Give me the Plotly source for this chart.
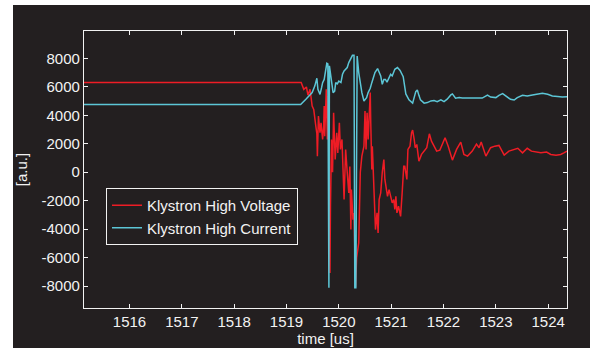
import plotly.graph_objects as go

# ---- data ----
voltage_time = [1515.13, 1519.28, 1519.33, 1519.38, 1519.41, 1519.45, 1519.49, 1519.52, 1519.56, 1519.58,
                1519.59, 1519.61, 1519.64, 1519.66, 1519.69, 1519.71, 1519.72, 1519.73, 1519.76, 1519.78,
                1519.80, 1519.83, 1519.84, 1519.86, 1519.88, 1519.90, 1519.93, 1519.96, 1519.98, 1520.01,
                1520.03, 1520.06, 1520.10, 1520.13, 1520.16, 1520.19, 1520.21, 1520.23, 1520.24, 1520.27,
                1520.29, 1520.32, 1520.34, 1520.38, 1520.41, 1520.44, 1520.48, 1520.50, 1520.52, 1520.54,
                1520.56, 1520.58, 1520.60, 1520.61, 1520.63, 1520.64, 1520.67, 1520.70, 1520.73, 1520.75,
                1520.77, 1520.80, 1520.83, 1520.86, 1520.88, 1520.91, 1520.93, 1520.96, 1520.99, 1521.02,
                1521.05, 1521.07, 1521.09, 1521.11, 1521.14, 1521.18, 1521.21, 1521.24, 1521.26, 1521.30,
                1521.32, 1521.36, 1521.39, 1521.41, 1521.44, 1521.46, 1521.49, 1521.53, 1521.58, 1521.63,
                1521.68, 1521.73, 1521.77, 1521.87, 1521.93, 1522.03, 1522.09, 1522.17, 1522.25, 1522.33,
                1522.39, 1522.46, 1522.55, 1522.63, 1522.68, 1522.72, 1522.81, 1522.90, 1522.98, 1523.06,
                1523.16, 1523.25, 1523.35, 1523.42, 1523.51, 1523.60, 1523.68, 1523.76, 1523.86, 1523.97,
                1524.05, 1524.15, 1524.24, 1524.30, 1524.36]
voltage_values = [6300, 6300, 5820, 5990, 5410, 5820, 4650, 4410, 3240, 2710,
                  1130, 3940, 2770, 3470, 2300, 3240, 4650, 2530, 5820, 2300,
                  5350, -7080, -2390, 2300, 0, 4180, 890, 2770, 1360, 3470,
                  1600, 2300, -1920, 1600, 0, -1450, 400, -4030, -1220, -3330,
                  -2860, -8040, -6000, -4970, 0, 1130, 1830, 4290, 1600, 4180,
                  2300, 4650, 5590, 3470, 190, 1830, -1220, -4030, -2860, -4270,
                  -1920, -1450, 0, 890, -510, -1450, -1690, -1220, -1690, -2160,
                  -1920, -2620, -1690, -2860, -2390, -3100, -1450, 420, 420, -510,
                  1600, 1830, 2770, 2960, 2300, 1720, 1950, 770, 1250, 1480,
                  1720, 2700, 2180, 1480, 1550, 2420, 1830, 850, 1600, 2110,
                  1250, 1130, 1480, 1970, 1720, 2120, 1130, 1720, 1830, 1880,
                  1200, 1480, 1600, 1680, 1360, 1680, 1480, 1410, 1360, 1410,
                  1250, 1200, 1250, 1360, 1480]

current_time = [1515.13, 1519.27, 1519.37, 1519.43, 1519.49, 1519.54, 1519.58, 1519.60, 1519.64, 1519.67,
                1519.69, 1519.72, 1519.74, 1519.77, 1519.79, 1519.797, 1519.81, 1519.82, 1519.84, 1519.87,
                1519.89, 1519.92, 1519.94, 1519.97, 1520.00, 1520.04, 1520.07, 1520.10, 1520.13, 1520.16,
                1520.19, 1520.23, 1520.26, 1520.29, 1520.305, 1520.325, 1520.35, 1520.38, 1520.41, 1520.44,
                1520.48, 1520.53, 1520.56, 1520.60, 1520.63, 1520.69, 1520.74, 1520.77, 1520.80, 1520.83,
                1520.86, 1520.89, 1520.92, 1520.96, 1520.99, 1521.02, 1521.07, 1521.12, 1521.17, 1521.23,
                1521.28, 1521.34, 1521.41, 1521.47, 1521.50, 1521.53, 1521.56, 1521.63, 1521.69, 1521.76,
                1521.82, 1521.88, 1521.95, 1522.01, 1522.07, 1522.14, 1522.17, 1522.23, 1522.30, 1522.36,
                1522.46, 1522.55, 1522.65, 1522.74, 1522.84, 1522.90, 1523.00, 1523.06, 1523.13, 1523.19,
                1523.28, 1523.35, 1523.41, 1523.51, 1523.60, 1523.70, 1523.80, 1523.89, 1523.99, 1524.08,
                1524.18, 1524.27, 1524.37]
current_values = [4750, 4750, 5120, 5350, 5590, 6050, 6600, 5820, 5470, 5940,
                  6290, 6520, 7000, 7650, 7600, -8110, -8110, 7470, 7000, 6050,
                  5590, 5700, 6290, 6200, 6400, 6300, 6880, 7110, 7200, 7350,
                  7700, 8000, 8210, 8210, -8110, -8110, 8160, 7000, 6200, 5590,
                  5000, 5230, 5590, 5900, 6290, 7000, 7280, 7000, 6760, 6170,
                  6520, 6520, 6330, 6640, 6880, 6760, 7230, 7350, 7150, 6710,
                  5500, 5080, 4850, 5660, 5780, 5400, 5080, 4850, 4890, 5010,
                  5030, 4960, 5080, 4960, 5130, 5430, 5500, 5200, 5240, 5210,
                  5210, 5170, 5190, 5210, 5420, 5280, 5240, 5400, 5520, 5350,
                  5120, 5070, 5240, 5400, 5350, 5420, 5490, 5540, 5470, 5350,
                  5310, 5280, 5310]

x_ticks = [1516, 1517, 1518, 1519, 1520, 1521, 1522, 1523, 1524]
y_ticks = [-8000, -6000, -4000, -2000, 0, 2000, 4000, 6000, 8000]
x_ticktext = [str(v) for v in x_ticks]
y_ticktext = [str(v) for v in y_ticks]  # plain hyphen-minus as in the original

BG = "#231f20"
FG = "#f2f2f2"
FONT = "Liberation Sans, Arial, sans-serif"

fig = go.Figure()
fig.add_trace(go.Scatter(x=voltage_time, y=voltage_values, mode="lines",
                         name="Klystron High Voltage",
                         line=dict(color="#ee1c25", width=1.5)))
fig.add_trace(go.Scatter(x=current_time, y=current_values, mode="lines",
                         name="Klystron High Current",
                         line=dict(color="#5cc6d6", width=1.5)))

L, R, T, B = 84, 23, 31, 40
W, H = 590, 348
pw, ph = W - L - R, H - T - B

# dark panel behind the whole figure (leaving a thin white strip top/left)
fig.add_shape(type="rect", xref="paper", yref="paper",
              x0=(13 - L) / pw, x1=(W + 30 - L) / pw,
              y0=-(B + 30) / ph, y1=(ph + T - 5) / ph,
              fillcolor=BG, line=dict(width=0), layer="below")

axis_common = dict(showline=True, linecolor=FG, linewidth=1.3, mirror="ticks",
                   ticks="inside", ticklen=4, tickcolor=FG, tickwidth=1,
                   showgrid=False, zeroline=False, automargin=False,
                   tickfont=dict(family=FONT, size=15, color=FG))

fig.update_layout(
    width=W, height=H,
    margin=dict(l=L, r=R, t=T, b=B),
    paper_bgcolor="white", plot_bgcolor=BG,
    showlegend=True,
    legend=dict(x=(106 - L) / pw, y=(H - B - 188) / ph, xanchor="left", yanchor="top",
                bgcolor=BG, bordercolor=FG, borderwidth=1,
                font=dict(family=FONT, size=15, color=FG),
                tracegroupgap=0, itemwidth=30),
    xaxis=dict(range=[1515.13, 1524.36], tickmode="array", tickvals=x_ticks, ticktext=x_ticktext,
               title=dict(text="time [us]", standoff=2,
                          font=dict(family=FONT, size=15, color=FG)),
               **axis_common),
    yaxis=dict(range=[-9540, 9920], tickmode="array", tickvals=y_ticks, ticktext=y_ticktext,
               title=dict(text="[a.u.]", standoff=10,
                          font=dict(family=FONT, size=15, color=FG)),
               **axis_common),
)

fig.write_html("out.html")
